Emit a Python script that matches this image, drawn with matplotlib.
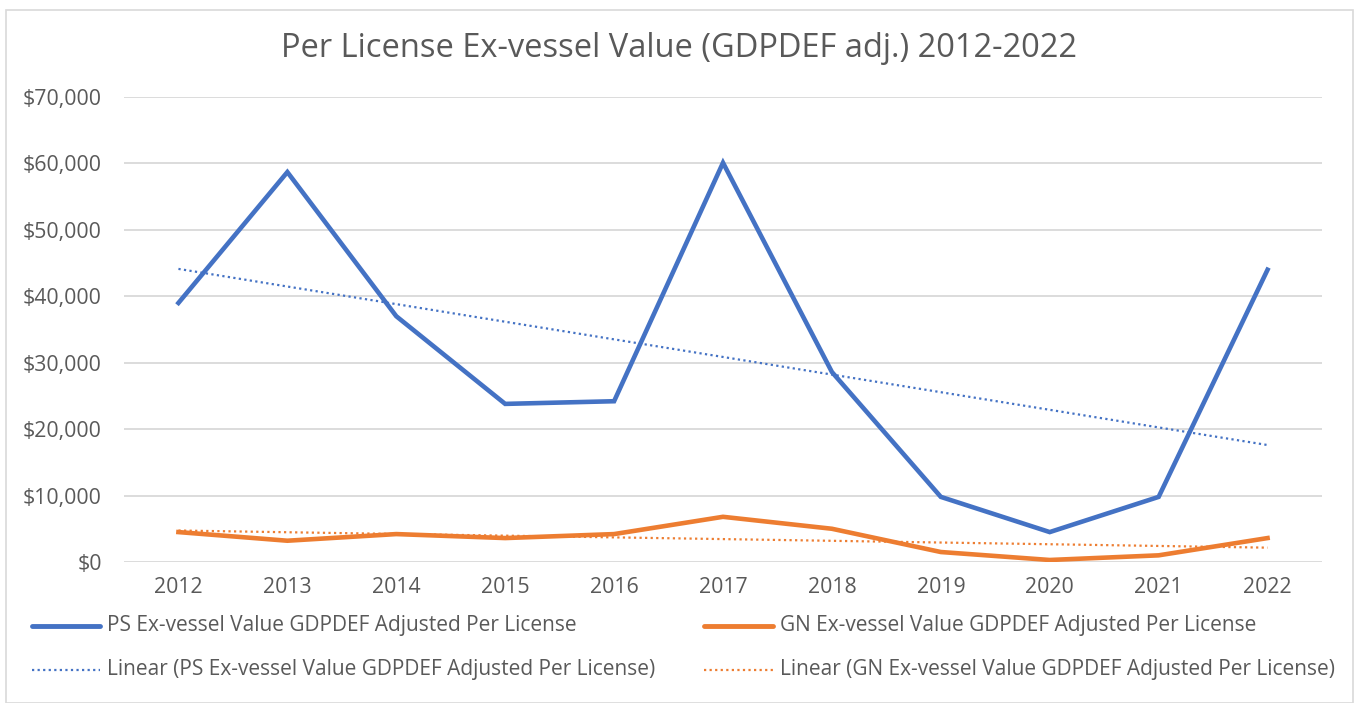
import matplotlib
matplotlib.use("Agg")
import matplotlib.pyplot as plt
from matplotlib.lines import Line2D
from matplotlib.patches import Rectangle
from matplotlib.ticker import FuncFormatter, MultipleLocator
import numpy as np

years = ["2012", "2013", "2014", "2015", "2016", "2017", "2018", "2019", "2020", "2021", "2022"]
ps_values = [39000, 58700, 37000, 23800, 24200, 60100, 28600, 9800, 4500, 9800, 44000]
gn_values = [4500, 3200, 4200, 3600, 4200, 6800, 5000, 1500, 300, 1000, 3600]

ps_label = "PS Ex-vessel Value GDPDEF Adjusted Per License"
gn_label = "GN Ex-vessel Value GDPDEF Adjusted Per License"
title = "Per License Ex-vessel Value (GDPDEF adj.) 2012-2022"

BLUE = "#4472C4"
ORANGE = "#ED7D31"
TXT = "#595959"
GRID = "#D9D9D9"

plt.rcParams['font.family'] = ['Open Sans', 'DejaVu Sans']

fig = plt.figure(figsize=(13.58, 7.03), dpi=100)
ax = fig.add_axes([0.0913, 0.2006, 0.8822, 0.6614])

x = np.arange(len(years))
ax.plot(x, ps_values, color=BLUE, lw=3.3, solid_joinstyle='miter', zorder=3)
ax.plot(x, gn_values, color=ORANGE, lw=3.3, solid_joinstyle='miter', zorder=3)

ps_fit = np.polyfit(x, ps_values, 1)
gn_fit = np.polyfit(x, gn_values, 1)
ax.plot(x, np.polyval(ps_fit, x), color=BLUE, lw=1.6, ls=(0, (1, 1.5)), zorder=2)
ax.plot(x, np.polyval(gn_fit, x), color=ORANGE, lw=1.6, ls=(0, (1, 1.5)), zorder=2)

ax.set_xlim(-0.5, len(years) - 0.5)
ax.set_ylim(0, 70000)
ax.yaxis.set_major_locator(MultipleLocator(10000))
ax.yaxis.set_major_formatter(FuncFormatter(lambda v, p: f"${v:,.0f}"))
ax.set_xticks(x)
ax.set_xticklabels(years)
ax.tick_params(axis='both', length=0, labelsize=15.3, colors=TXT)
ax.tick_params(axis='x', pad=11)
ax.tick_params(axis='y', pad=16)
ax.grid(axis='y', color=GRID, lw=1.3)
ax.set_axisbelow(True)
for s in ax.spines.values():
    s.set_visible(False)

fig.text(0.5, 0.931, title, ha='center', va='center', fontsize=23.5, color=TXT)

# legend
def leg_item(x0, x1, y, color, lw, ls, label, tx):
    fig.add_artist(Line2D([x0 / 1358, x1 / 1358], [1 - y / 703, 1 - y / 703],
                          color=color, lw=lw, ls=ls, solid_capstyle='round'))
    fig.text(tx / 1358, 1 - y / 703, label, ha='left', va='center', fontsize=15, color=TXT)

leg_item(32, 100, 626, BLUE, 3.5, '-', ps_label, 107)
leg_item(704, 773, 626, ORANGE, 3.5, '-', gn_label, 780)
leg_item(32, 100, 670, BLUE, 1.6, (0, (1, 1.5)), "Linear (" + ps_label + ")", 107)
leg_item(704, 773, 670, ORANGE, 1.6, (0, (1, 1.5)), "Linear (" + gn_label + ")", 780)

fig.add_artist(Rectangle((6 / 1358, 0), 1347 / 1358, 1 - 10 / 703,
                         fill=False, edgecolor="#D9D9D9", lw=1.2, transform=fig.transFigure))

fig.savefig("out.png", dpi=100, facecolor='white')
